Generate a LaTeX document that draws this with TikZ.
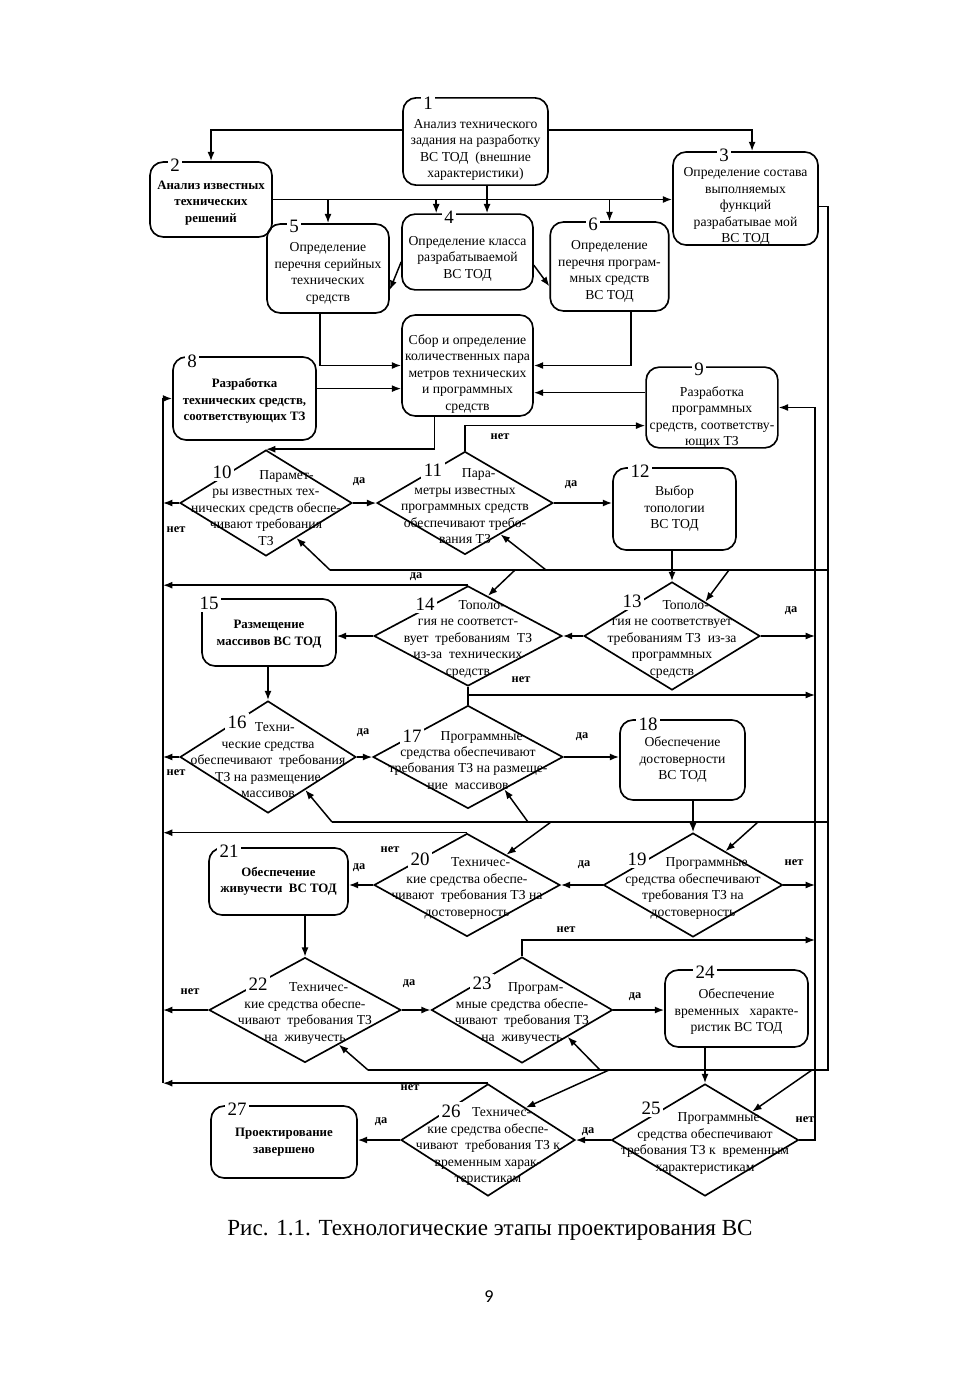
\documentclass[tikz,border=0pt]{standalone}
\usepackage{fontspec}
\setmainfont{Liberation Serif}
\newfontfamily\pagefont{Carlito}
\usepackage{tikz}
\usetikzlibrary{arrows.meta,calc,shapes.geometric}

\begin{document}
\begin{tikzpicture}[x=0.607pt, y=-0.607pt,
    box/.style={draw, line width=1pt, rounded corners=8pt, inner sep=0pt},
    cond/.style={draw, line width=1pt, diamond, inner sep=0pt},
    btext/.style={align=center, inner sep=0pt, font=\fontsize{8.3}{10}\selectfont},
    bbtext/.style={btext, font=\fontsize{7.8}{10}\selectfont\bfseries},
    ctext/.style={align=center, inner sep=0pt, font=\fontsize{8.3}{10}\selectfont},
    num/.style={fill=white, inner sep=1.5pt, font=\fontsize{11.5}{12}\selectfont},
    lbl/.style={inner sep=1pt, font=\fontsize{7.5}{8}\selectfont\bfseries},
    wire/.style={line width=0.9pt},
    arrow/.style={-{Latex[length=2mm, width=1.5mm]}, line width=0.9pt}
  ]
    \useasboundingbox (0,0) rectangle (980,1386);

    \node[box, minimum width=88pt, minimum height=53pt] (b1) at (475.5,141.5) {};
    \node[box, minimum width=74pt, minimum height=45.5pt] (b2) at (211,199.5) {};
    \node[box, minimum width=88pt, minimum height=56.5pt] (b3) at (745.5,198.5) {};
    \node[box, minimum width=79.5pt, minimum height=46pt] (b4) at (467.5,252) {};
    \node[box, minimum width=74pt, minimum height=54pt] (b5) at (328,268.5) {};
    \node[box, minimum width=72pt, minimum height=54pt] (b6) at (609.5,266.5) {};
    \node[box, minimum width=79.5pt, minimum height=61.3pt] (b7) at (467.5,365.5) {};
    \node[box, minimum width=86.8pt, minimum height=50.4pt] (b8) at (244.5,398.5) {};
    \node[box, minimum width=80pt, minimum height=49pt] (b9) at (712,407.5) {};
    \node[box, minimum width=74.7pt, minimum height=49.8pt] (b12) at (674.5,509) {};
    \node[box, minimum width=81.3pt, minimum height=40.7pt] (b15) at (269,632.5) {};
    \node[box, minimum width=75.9pt, minimum height=48.6pt] (b18) at (682.5,760) {};
    \node[box, minimum width=84.4pt, minimum height=40.7pt] (b21) at (278.5,881.5) {};
    \node[box, minimum width=86.8pt, minimum height=46.7pt] (b24) at (736.5,1008.5) {};
    \node[box, minimum width=88.6pt, minimum height=43.7pt] (b27) at (284,1142) {};

    \node[btext] (b1t) at ([yshift=-5pt]b1) {Анализ технического\\задания на разработку\\ВС ТОД \ (внешние\\характеристики)};
    \node[bbtext] (b2t) at ([yshift=-2pt]b2) {Анализ известных\\технических\\решений};
    \node[btext] (b3t) at ([yshift=-5pt]b3) {Определение состава\\выполняемых\\функций\\разрабатывае мой\\ВС ТОД};
    \node[btext] (b4t) at ([yshift=-4pt]b4) {Определение класса\\разрабатываемой\\ВС ТОД};
    \node[btext] (b5t) at ([yshift=-3pt]b5) {Определение\\перечня серийных\\технических\\средств};
    \node[btext] (b6t) at ([yshift=-3pt]b6) {Определение\\перечня програм-\\мных средств\\ВС ТОД};
    \node[btext] (b7t) at ([yshift=-5pt]b7) {Сбор и определение\\количественных пара\\метров технических\\и программных\\средств};
    \node[bbtext] (b8t) at ([yshift=-1.5pt]b8) {Разработка\\технических средств,\\соответствующих ТЗ};
    \node[btext] (b9t) at ([yshift=-6pt]b9) {Разработка\\программных\\средств, соответству-\\ющих ТЗ};
    \node[btext] (b12t) at (b12) {Выбор\\топологии\\ВС ТОД};
    \node[bbtext] (b15t) at ([yshift=-1pt]b15) {Размещение\\массивов ВС ТОД};
    \node[btext] (b18t) at (b18) {Обеспечение\\достоверности\\ВС ТОД};
    \node[bbtext] (b21t) at (b21) {Обеспечение\\живучести \ ВС ТОД};
    \node[btext] (b24t) at ([yshift=-2pt]b24) {Обеспечение\\временных \ \ характе-\\ристик ВС ТОД};
    \node[bbtext] (b27t) at (b27) {Проектирование\\завершено};

    \node[cond, minimum width=104.4pt, minimum height=64.3pt] (d10) at (266,503) {};
    \node[cond, minimum width=106.8pt, minimum height=62.5pt] (d11) at (465,503) {};
    \node[cond, minimum width=106.8pt, minimum height=65.6pt] (d13) at (672,636) {};
    \node[cond, minimum width=114.1pt, minimum height=60.7pt] (d14) at (468,636) {};
    \node[cond, minimum width=106.8pt, minimum height=68pt] (d16) at (268,757) {};
    \node[cond, minimum width=115.3pt, minimum height=62.5pt] (d17) at (468,757) {};
    \node[cond, minimum width=108.7pt, minimum height=63.1pt] (d19) at (693,885) {};
    \node[cond, minimum width=112.9pt, minimum height=62.5pt] (d20) at (467,885) {};
    \node[cond, minimum width=116.5pt, minimum height=63.7pt] (d22) at (305,1010) {};
    \node[cond, minimum width=109.9pt, minimum height=64.3pt] (d23) at (522,1010) {};
    \node[cond, minimum width=113.5pt, minimum height=68pt] (d25) at (705,1140) {};
    \node[cond, minimum width=105.6pt, minimum height=68pt] (d26) at (488,1140) {};

    \node[ctext] (t10) at ([yshift=-3pt]d10) {\hspace*{3em}Парамет-\\ры известных тех-\\нических средств обеспе-\\чивают требования\\ТЗ};
    \node[ctext] (t11) at ([yshift=-2pt]d11) {\hspace*{2em}Пара-\\метры известных\\программных средств\\обеспечивают требо-\\вания ТЗ};
    \node[ctext] (t13) at ([yshift=-2pt]d13) {\hspace*{2em}Тополо-\\гия не соответствует\\требованиям ТЗ \ из-за\\программных\\средств};
    \node[ctext] (t14) at ([yshift=-2pt]d14) {\hspace*{2em}Тополо-\\гия не соответст-\\вует \ требованиям \ ТЗ\\из-за \ технических\\средств};
    \node[ctext] (t16) at ([yshift=-2pt]d16) {\hspace*{1em}Техни-\\ческие средства\\обеспечивают \ требования\\ТЗ на размещение\\массивов};
    \node[ctext] (t17) at ([yshift=-2pt]d17) {\hspace*{2em}Программные\\средства обеспечивают\\требования ТЗ на размеще-\\ние \ массивов};
    \node[ctext] (t19) at ([yshift=-2pt]d19) {\hspace*{2em}Программные\\средства обеспечивают\\требования ТЗ на\\достоверность};
    \node[ctext] (t20) at ([yshift=-2pt]d20) {\hspace*{2em}Техничес-\\кие средства обеспе-\\чивают \ требования ТЗ на\\достоверность};
    \node[ctext] (t22) at ([yshift=-2pt]d22) {\hspace*{2em}Техничес-\\кие средства обеспе-\\чивают \ требования ТЗ\\на \ живучесть};
    \node[ctext] (t23) at ([yshift=-2pt]d23) {\hspace*{2em}Програм-\\мные средства обеспе-\\чивают \ требования ТЗ\\на \ живучесть};
    \node[ctext] (t25) at ([yshift=-2pt]d25) {\hspace*{2em}Программные\\средства обеспечивают\\требования ТЗ к \ временным\\характеристикам};
    \node[ctext] (t26) at ([yshift=-4pt]d26) {\hspace*{2em}Техничес-\\кие средства обеспе-\\чивают \ требования ТЗ к\\временным харак-\\теристикам};

    \coordinate (lb) at (163,0);
    \coordinate (rb) at (815,0);
    \coordinate (ob) at (828,0);
    \coordinate (b4in) at ([xshift=-19pt]b4.north);
    \coordinate (b3in) at ([xshift=4pt]b3.north);

    \draw[arrow] ([yshift=7pt]b1.west) -| (b2.north);
    \draw[arrow] ([yshift=7pt]b1.east) -| (b3in);
    \draw[arrow] ([xshift=7pt]b1.south) -- ([xshift=7pt]b1.south |- b4.north);
    \draw[arrow] (b2.east) -- (b2.east -| b3.west);
    \draw[arrow] (b2.east -| b5.north) -- (b5.north);
    \draw[arrow] (b2.east -| b4in) -- (b4in);
    \draw[arrow] (b2.east -| b6.north) -- (b6.north);
    \draw[arrow] ([yshift=-6pt]b4.west) -- ([yshift=-13pt]b5.east);
    \draw[arrow] ([yshift=-8pt]b4.east) -- ([yshift=-12pt]b6.west);
    \draw[arrow] ([xshift=-5pt]b5.south) |- (b7.west);
    \draw[arrow] ([xshift=13pt]b6.south) |- (b7.east);
    \draw[arrow] ([yshift=6pt]b8.east) -- ([yshift=6pt]b8.east -| b7.west);
    \draw[arrow] ([yshift=9pt]b9.west) -- ([yshift=9pt]b9.west -| b7.east);
    \draw[arrow] ([xshift=-20pt]b7.south) |- (d10.north);

    \draw[arrow] (d10.east) -- (d11.west);
    \draw[arrow] (d10.west) -- (d10.west -| lb);
    \draw[arrow] (d11.north) |- ([yshift=-11pt]b9.west);
    \draw[arrow] (d11.east) -- (d11.east -| b12.west);
    \draw[arrow] (b12.south -| d13.north) -- (d13.north);
    \draw[arrow] (d13.west) -- (d14.east);
    \draw[arrow] (d13.east) -- (d13.east -| rb);
    \draw[arrow] (d14.west) -- (d14.west -| b15.east);
    \draw[arrow] (d14.north) -- (d14.north -| lb);
    \draw[arrow] (b15.south -| d16.north) -- (d16.north);
    \draw[arrow] (d16.west) -- (d16.west -| lb);
    \draw[arrow] (d16.east) -- (d17.west);
    \draw[arrow] (d17.east) -- (d17.east -| b18.west);
    \draw[wire] (d14.south) -- (d17.north);
    \draw[arrow] (d17.north) |- (rb |- 0,695);
    \draw[arrow] (b18.south -| d19.north) -- (d19.north);
    \draw[arrow] (d19.west) -- (d20.east);
    \draw[arrow] (d19.east) -- (d19.east -| rb);
    \draw[arrow] (d20.west) -- (d20.west -| b21.east);
    \draw[arrow] (d20.north) -- (d20.north -| lb);
    \draw[arrow] (b21.south -| d22.north) -- (d22.north);
    \draw[arrow] (d22.west) -- (d22.west -| lb);
    \draw[arrow] (d22.east) -- (d23.west);
    \draw[arrow] (d23.east) -- (d23.east -| b24.west);
    \draw[arrow] (d23.north) |- (rb |- 0,940);
    \draw[arrow] (b24.south -| d25.north) -- (d25.north);
    \draw[arrow] (d25.west) -- (d26.east);
    \draw[arrow] (d26.west) -- (d26.west -| b27.east);
    \draw[arrow] (d26.north) -- (d26.north -| lb);
    \draw[arrow] (d25.east) -| (rb |- b9.east) -- (b9.east);
    \draw[arrow] (d26.north -| lb) |- (b8.west);

    \draw[wire] ([yshift=-5pt]b3.east) -| (ob |- 0,1070) -- (368,1070);
    \draw[wire] (ob |- 0,570) -- (330,570);
    \draw[wire] (ob |- 0,822) -- (332,822);

    \coordinate (p10) at (330,570);
    \coordinate (p11) at (546,570);
    \coordinate (p14) at (515,570);
    \coordinate (p13) at (729,570);
    \coordinate (p16) at (332,822);
    \coordinate (p17) at (528,822);
    \coordinate (p20) at (551,822);
    \coordinate (p19) at (758,822);
    \coordinate (p22) at (368,1070);
    \coordinate (p23) at (600,1070);
    \coordinate (p26) at (609,1070);
    \coordinate (p25) at (812,1070);
    \draw[arrow] (p10) -- ($(d10.south)!.35!(d10.east)$);
    \draw[arrow] (p11) -- ($(d11.south)!.4!(d11.east)$);
    \draw[arrow] (p14) -- ($(d14.north)!.21!(d14.east)$);
    \draw[arrow] (p13) -- ($(d13.north)!.375!(d13.east)$);
    \draw[arrow] (p16) -- ($(d16.south)!.42!(d16.east)$);
    \draw[arrow] (p17) -- ($(d17.south)!.38!(d17.east)$);
    \draw[arrow] (p20) -- ($(d20.north)!.42!(d20.east)$);
    \draw[arrow] (p19) -- ($(d19.north)!.36!(d19.east)$);
    \draw[arrow] (p22) -- ($(d22.south)!.35!(d22.east)$);
    \draw[arrow] (p23) -- ($(d23.south)!.5!(d23.east)$);
    \draw[arrow] (p26) -- ($(d26.north)!.43!(d26.east)$);
    \draw[arrow] (p25) -- ($(d25.north)!.5!(d25.east)$);

    \node[num] (n1) at (428,103) {1};
    \node[num] (n2) at (175,165) {2};
    \node[num] (n3) at (724,155) {3};
    \node[num] (n4) at (449,217) {4};
    \node[num] (n5) at (294,226) {5};
    \node[num] (n6) at (593,224) {6};
    \node[num] (n8) at (192,361) {8};
    \node[num] (n9) at (699,369) {9};
    \node[num] (n12) at (640,471) {12};
    \node[num] (n15) at (209,603) {15};
    \node[num] (n18) at (648,724) {18};
    \node[num] (n21) at (229,851) {21};
    \node[num] (n24) at (705,972) {24};
    \node[num] (n27) at (237,1109) {27};
    \node[num] (n10) at (222,472) {10};
    \node[num] (n11) at (433,470) {11};
    \node[num] (n13) at (632,601) {13};
    \node[num] (n14) at (425,604) {14};
    \node[num] (n16) at (237,722) {16};
    \node[num] (n17) at (412,736) {17};
    \node[num] (n19) at (637,859) {19};
    \node[num] (n20) at (420,859) {20};
    \node[num] (n22) at (258,984) {22};
    \node[num] (n23) at (482,983) {23};
    \node[num] (n25) at (651,1108) {25};
    \node[num] (n26) at (451,1111) {26};

    \node[lbl] (y10) at (359,482) {да};
    \node[lbl] (x10) at (176,530) {нет};
    \node[lbl] (x11) at (500,437) {нет};
    \node[lbl] (y11) at (571,485) {да};
    \node[lbl] (y14) at (416,577) {да};
    \node[lbl] (y13) at (791,611) {да};
    \node[lbl] (x14) at (521,680) {нет};
    \node[lbl] (y16) at (363,733) {да};
    \node[lbl] (x16) at (176,773) {нет};
    \node[lbl] (y17) at (582,737) {да};
    \node[lbl] (x20) at (390,850) {нет};
    \node[lbl] (y20) at (359,868) {да};
    \node[lbl] (y19) at (584,865) {да};
    \node[lbl] (x19) at (794,863) {нет};
    \node[lbl] (x23) at (566,930) {нет};
    \node[lbl] (x22) at (190,992) {нет};
    \node[lbl] (y22) at (409,984) {да};
    \node[lbl] (y23) at (635,997) {да};
    \node[lbl] (x26) at (410,1088) {нет};
    \node[lbl] (y26) at (381,1122) {да};
    \node[lbl] (y25) at (588,1132) {да};
    \node[lbl] (x25) at (805,1120) {нет};

    \node[font=\fontsize{14}{16}\selectfont] (cap) at (490,1230) {Рис. 1.1. Технологические этапы проектирования ВС};
    \node[font=\pagefont\fontsize{11}{12}\selectfont] (pg) at (489,1297) {9};
  \end{tikzpicture}
\end{document}
